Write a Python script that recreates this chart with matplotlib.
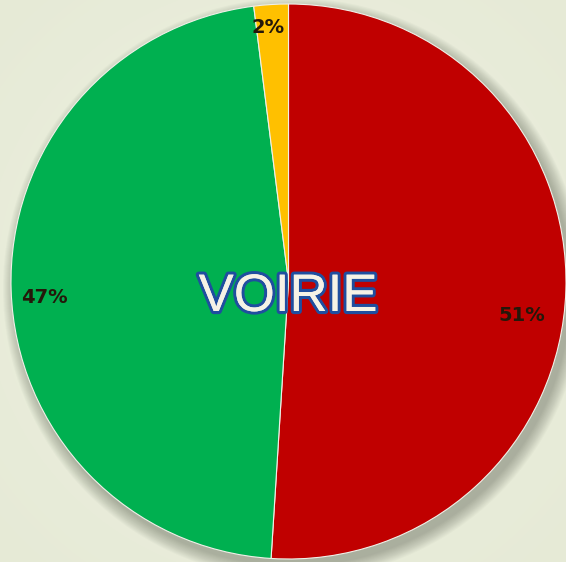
import numpy as np
import matplotlib.pyplot as plt
import matplotlib.patheffects as pe
from matplotlib.patches import Circle

# data
labels = ["51%", "47%", "2%"]
values = [51, 47, 2]
colors = ["#C00000", "#00B050", "#FFC000"]
title = "VOIRIE"

W, H = 566, 562
cx, cy, r = 288.5, 562 - 281.5, 277.5

fig = plt.figure(figsize=(W / 100, H / 100), dpi=100)
ax = fig.add_axes([0, 0, 1, 1])

# background gradient
yy, xx = np.mgrid[0:H, 0:W]
d = np.hypot(xx - W / 2, yy - H / 2) / 400
bg = np.zeros((H, W, 3))
c0 = np.array([238, 241, 226]) / 255
c1 = np.array([230, 234, 214]) / 255
for k in range(3):
    bg[..., k] = c0[k] + (c1[k] - c0[k]) * np.clip(d, 0, 1)
ax.imshow(bg, extent=[0, W, 0, H], zorder=0)

# soft shadow
for i in range(14):
    ax.add_patch(Circle((cx + 5, cy - 7), r + 13 - i, color="#5a5f50",
                        alpha=0.035, lw=0, zorder=1))

wedges, texts = ax.pie(values, colors=colors, startangle=90, counterclock=False,
                       center=(cx, cy), radius=r, frame=True,
                       wedgeprops=dict(lw=0.8, edgecolor="#f0f0e8"))
for w in wedges:
    w.set_zorder(2)
ax.set_xlim(0, W)
ax.set_ylim(0, H)
ax.set_aspect("auto")
ax.axis("off")

# labels near outer edge (small nudges like the original layout)
dist = [0.85, 0.88, 0.92]
nudge = [-6.5, 2.0, 1.0]
start = 90
for v, lab, dd, nd in zip(values, labels, dist, nudge):
    mid = start - v * 3.6 / 2 + nd
    start -= v * 3.6
    a = np.deg2rad(mid)
    ax.text(cx + dd * r * np.cos(a), cy + dd * r * np.sin(a), lab,
            ha="center", va="center", fontsize=14, fontweight="bold",
            color="#24180a", family="DejaVu Sans", zorder=5)

ax.text(cx - 0.5, 562 - 297, title, ha="center", va="center", fontsize=38,
        family="Liberation Sans", color="#F5F2E6", zorder=6,
        path_effects=[pe.withStroke(linewidth=4.5, foreground="#1F4E9F"),
                      pe.Normal()])

fig.savefig("out.png", dpi=100)
